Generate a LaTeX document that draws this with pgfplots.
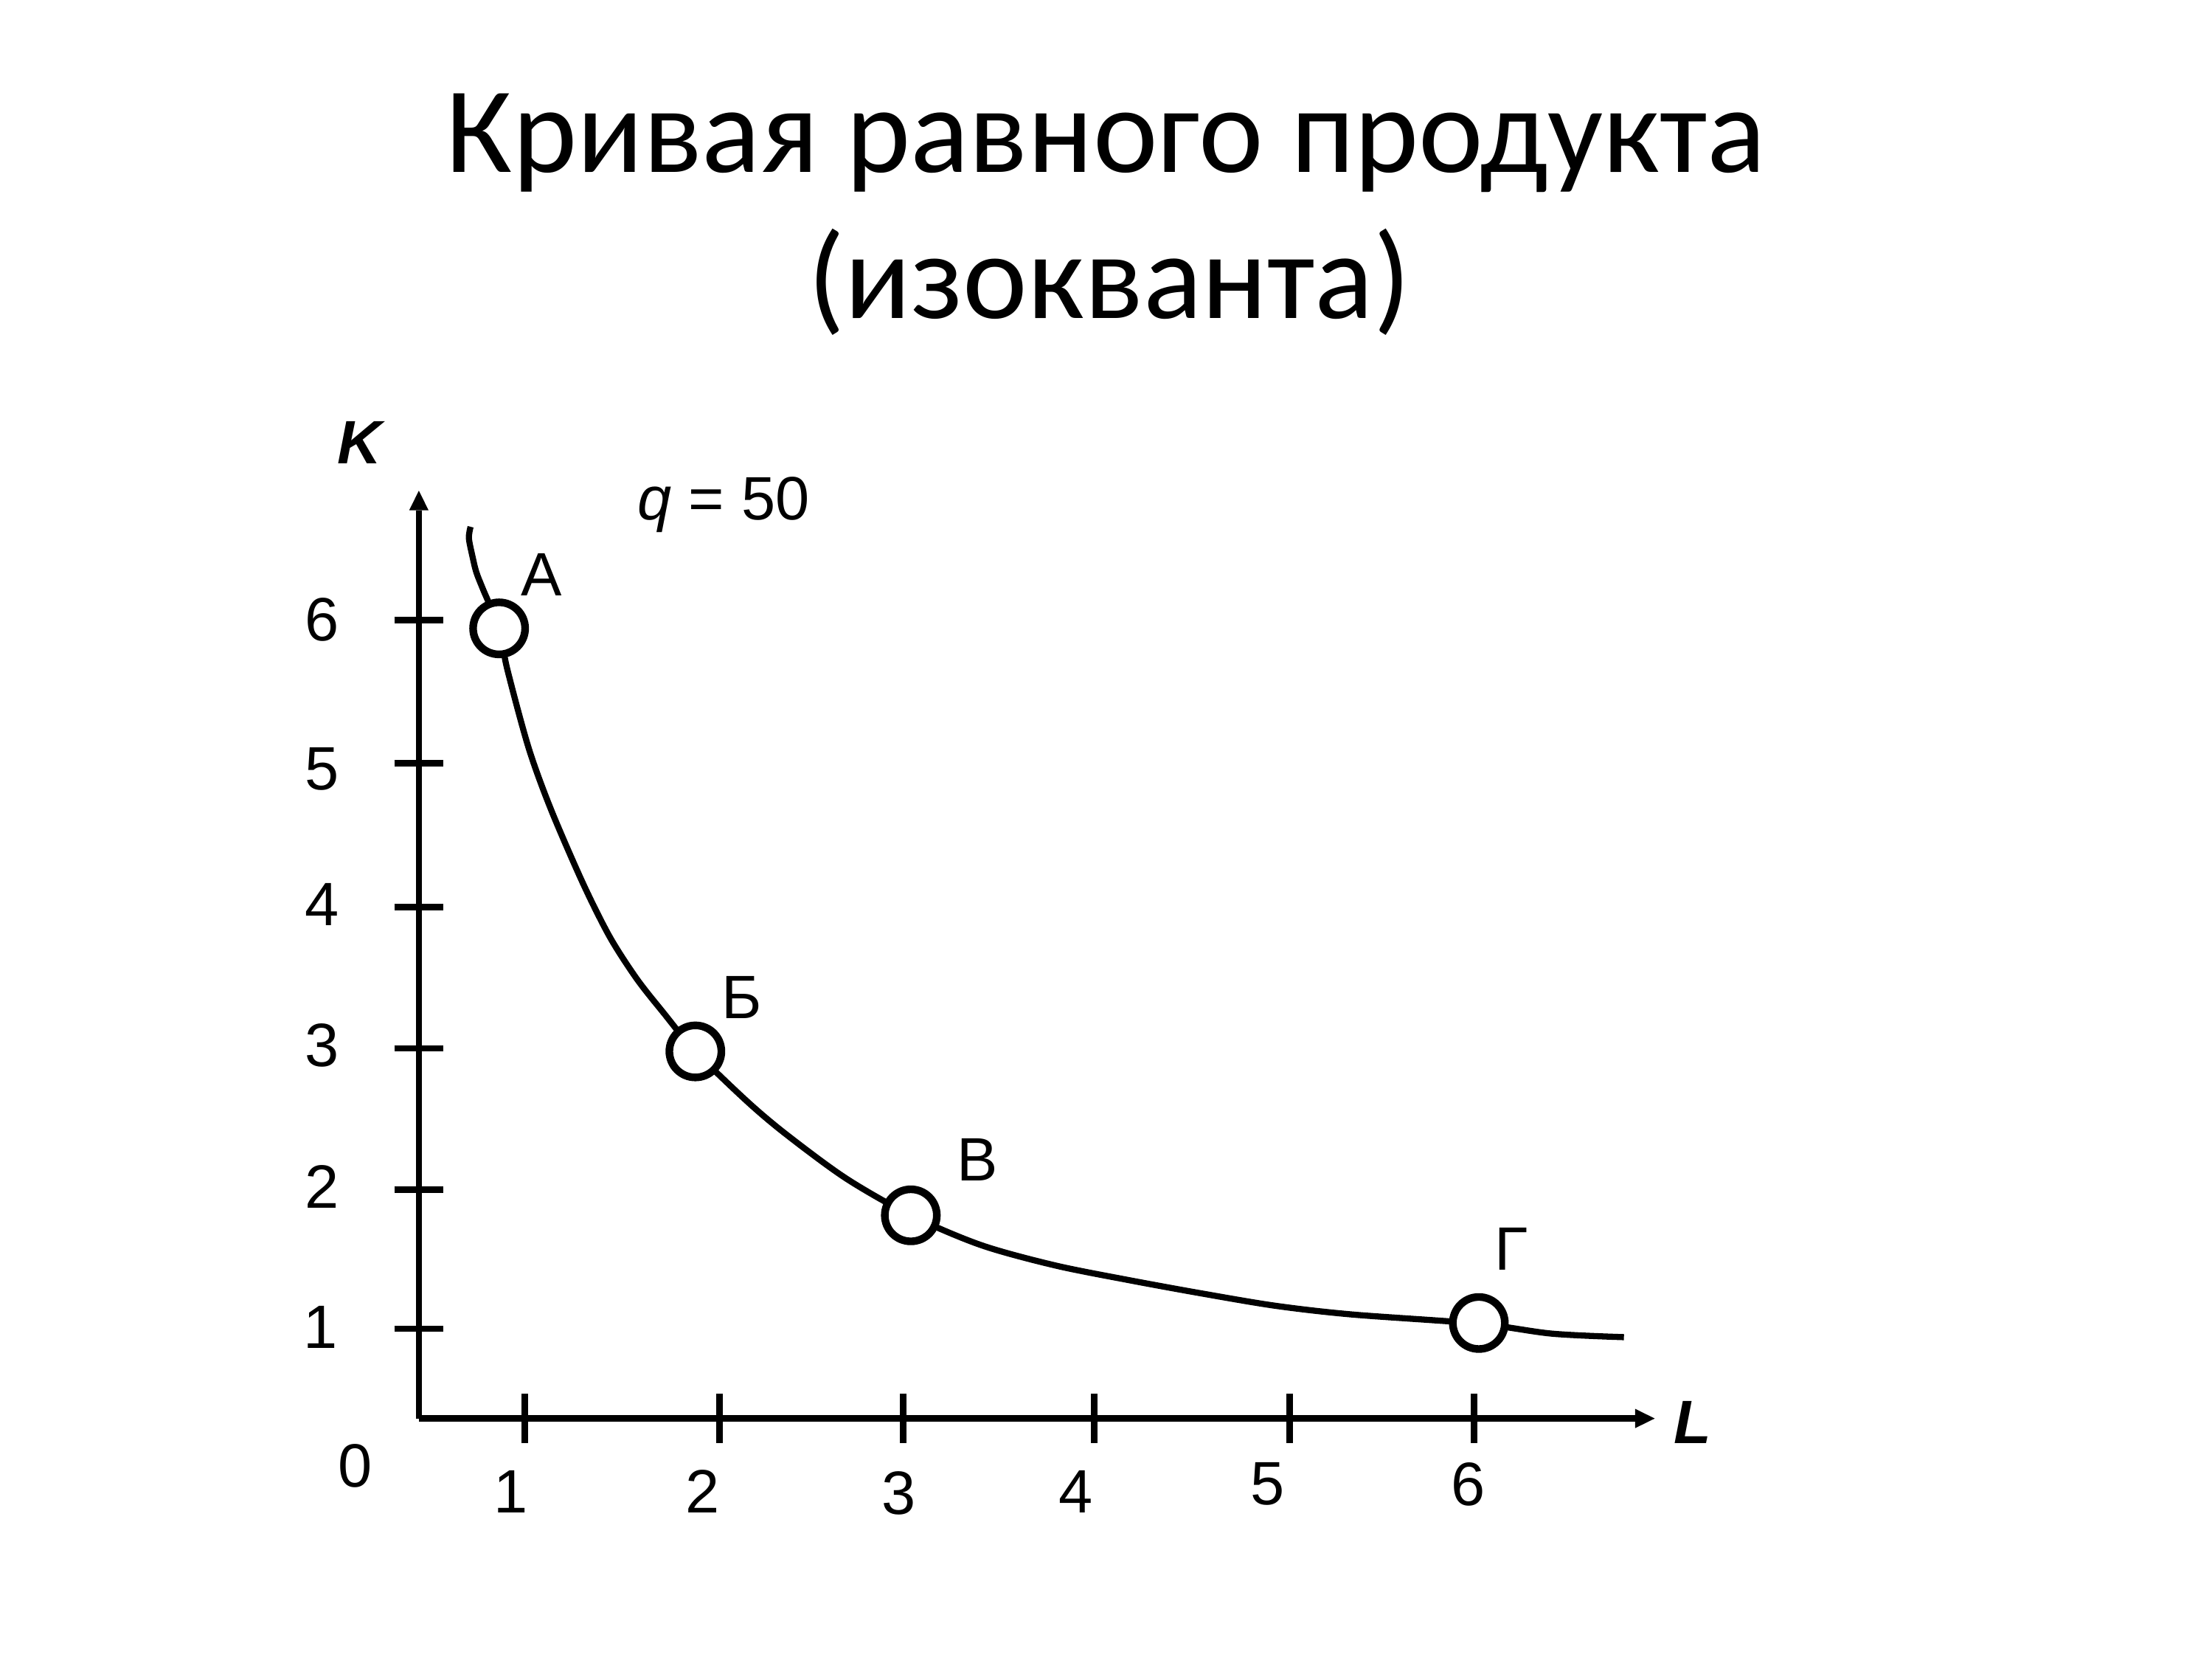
\documentclass[border=0pt]{standalone}
\usepackage{fontspec}
\setmainfont{Liberation Sans}
\newfontfamily\titlefont{Carlito}
\usepackage{pgfplots}
\pgfplotsset{compat=1.18}
\usetikzlibrary{arrows.meta}
\tikzset{lbl/.style={font=\fontsize{20}{24}\selectfont}}
\begin{document}
\begin{tikzpicture}
\path[use as bounding box] (0,0) rectangle (10in,7.5in);
\node[anchor=base, font=\titlefont\fontsize{40}{48}\selectfont] at (5in,6.722in) {Кривая равного продукта};
\node[anchor=base, font=\titlefont\fontsize{40}{48}\selectfont] at (5.015in,6.061in) {(изокванта)};
\begin{axis}[
  at={(1.8936in,1.0890in)}, anchor=south west,
  scale only axis, width=5.5871in, height=4.1934in,
  xmin=0.443, xmax=6.942, ymin=0.366, ymax=6.915,
  axis lines=left,
  axis line style={line width=2.1pt, black},
  x axis line style={-{Triangle[length=6.4pt,width=6.3pt,line width=0pt]}},
  y axis line style={-{Triangle[length=6.4pt,width=6.3pt,line width=0pt]}},
  xtick={1,2.024,2.989,3.995,5.022,5.993},
  ytick={1.0,1.982,2.978,3.974,4.99,6.0},
  xticklabels={,,,,,}, yticklabels={,,,,,},
  tick align=center, major tick length=16pt,
  tick style={line width=2.1pt, black},
  clip=false,
]
\addplot[line width=2pt, smooth, tension=0.5] coordinates {
(0.715,6.66) (0.706,6.58) (0.725,6.45) (0.745,6.34) (0.780,6.22)
(0.865,5.943) (0.907,5.66) (1.020,5.10) (1.137,4.667)
(1.305,4.146) (1.447,3.765) (1.589,3.469) (1.731,3.227) (1.897,2.957)
(2.171,2.602) (2.378,2.368) (2.69,2.06) (3.030,1.800) (3.399,1.590)
(3.787,1.447) (4.175,1.343) (4.562,1.248) (4.950,1.161) (5.351,1.100)
(6.017,1.035) (6.40,0.965) (6.78,0.940)
};
\addplot[only marks, line width=2.5pt, mark=*, mark size=8.5pt,
  mark options={fill=white, draw=black, line width=2.5pt}]
  coordinates {(0.865,5.943) (1.897,2.957) (3.030,1.800) (6.017,1.040)};
% axis titles and labels
\node[lbl, anchor=base] at (axis cs:0.139,7.107) {\textbf{\textit{K}}};
\node[lbl, anchor=base] at (axis cs:7.142,0.189) {\textbf{\textit{L}}};
\node[lbl, anchor=base] at (axis cs:2.045,6.712) {\textit{q} = 50};
\node[lbl] at (axis cs:1.088,6.321) {А};
\node[lbl] at (axis cs:2.142,3.340) {Б};
\node[lbl] at (axis cs:3.380,2.193) {В};
\node[lbl] at (axis cs:6.188,1.562) {Г};
% tick labels
\node[lbl] at (axis cs:-0.066,6.004) {6};
\node[lbl] at (axis cs:-0.068,4.95) {5};
\node[lbl] at (axis cs:-0.068,3.994) {4};
\node[lbl] at (axis cs:-0.068,2.998) {3};
\node[lbl] at (axis cs:-0.068,2.002) {2};
\node[lbl] at (axis cs:-0.075,1.01) {1};
\node[lbl] at (axis cs:0.110,0.033) {0};
\node[lbl] at (axis cs:0.925,-0.149) {1};
\node[lbl] at (axis cs:1.935,-0.149) {2};
\node[lbl] at (axis cs:2.966,-0.159) {3};
\node[lbl] at (axis cs:3.899,-0.149) {4};
\node[lbl] at (axis cs:4.905,-0.098) {5};
\node[lbl] at (axis cs:5.962,-0.098) {6};
\end{axis}
\end{tikzpicture}
\end{document}
